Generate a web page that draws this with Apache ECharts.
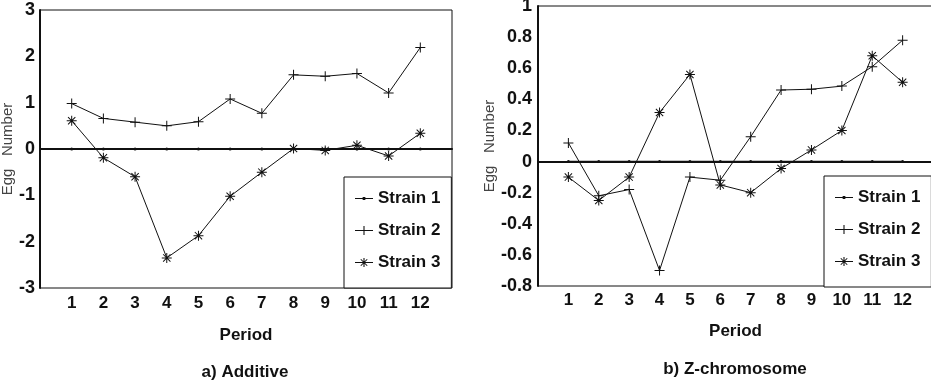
<!DOCTYPE html>
<html>
<head>
<meta charset="utf-8">
<script src="https://cdn.jsdelivr.net/npm/echarts@6/dist/echarts.min.js"></script>
<style>
  html, body { margin: 0; padding: 0; background: #fff; }
  #chart { width: 931px; height: 383px; }
</style>
</head>
<body>
<div id="chart"></div>
<script>
// periods on the x axis
var periods = [1, 2, 3, 4, 5, 6, 7, 8, 9, 10, 11, 12];

// a) Additive
var addStrain1 = [0, 0, 0, 0, 0, 0, 0, 0, 0, 0, 0, 0];
var addStrain2 = [0.98, 0.66, 0.58, 0.50, 0.59, 1.08, 0.77, 1.60, 1.57, 1.63, 1.21, 2.19];
var addStrain3 = [0.61, -0.19, -0.60, -2.35, -1.87, -1.02, -0.50, 0.01, -0.03, 0.08, -0.15, 0.34];

// b) Z-chromosome
var zStrain1 = [0, 0, 0, 0, 0, 0, 0, 0, 0, 0, 0, 0];
var zStrain2 = [0.12, -0.22, -0.18, -0.70, -0.10, -0.12, 0.16, 0.46, 0.465, 0.485, 0.61, 0.78];
var zStrain3 = [-0.10, -0.25, -0.10, 0.315, 0.56, -0.15, -0.20, -0.045, 0.075, 0.20, 0.68, 0.51];

var names = ['Strain 1', 'Strain 2', 'Strain 3'];
var ink = '#111';
var font = 'Liberation Sans, Arial, sans-serif';

// symbols (plus and asterisk)
var plusPath = 'path://M4.5,0h1v10h-1Z M0,4.5h10v1h-10Z';
var starPath = 'path://M4.5,0h1v10h-1Z M0,4.5h10v1h-10Z M1,1.7L1.7,1L9,8.3L8.3,9Z M8.3,1L9,1.7L1.7,9L1,8.3Z';
// legend icons: line with marker
var icon1 = 'path://M0,1h20v1.2h-20Z M8.5,0h3v3.2h-3Z';
var icon2 = 'path://M0,4.4h20v1.2h-20Z M9.4,0h1.2v10h-1.2Z';
var icon3 = 'path://M0,4.4h20v1.2h-20Z M9.4,0h1.2v10h-1.2Z M6,1.6L6.8,1L14,8.4L13.2,9Z M13.2,1L14,1.6L6.8,9L6,8.4Z';

function pts(vals) {
    return periods.map(function (p, i) { return [p, vals[i]]; });
}

function xAxisFor(idx) {
    return {
        type: 'value', gridIndex: idx, min: 0, max: 13, interval: 1,
        name: 'Period', nameLocation: 'middle', nameGap: idx === 0 ? 39 : 37,
        nameTextStyle: { fontFamily: font, fontWeight: 'bold', fontSize: 17, color: ink },
        axisLine: { lineStyle: { color: ink, width: 2 } },
        axisTick: { show: false },
        splitLine: { show: false },
        axisLabel: {
            margin: idx === 0 ? 7 : 6, fontFamily: font, fontWeight: 'bold', fontSize: 17, color: ink,
            formatter: function (v) { return (v < 1 || v > 12) ? '' : String(v); }
        }
    };
}

function yAxisFor(idx, min, max, step, gap, margin) {
    return {
        type: 'value', gridIndex: idx, min: min, max: max, interval: step,
        name: 'Egg   Number', nameLocation: 'middle', nameGap: gap,
        nameTextStyle: { fontFamily: font, fontSize: 15, color: '#444' },
        axisLine: { show: true, lineStyle: { color: ink, width: 2 } },
        axisTick: { show: false },
        splitLine: { show: false },
        axisLabel: {
            margin: margin, fontFamily: font, fontWeight: 'bold', fontSize: 18, color: ink,
            formatter: function (v) { return String(Math.round(v * 10) / 10); }
        }
    };
}

function seriesFor(idx, s1, s2, s3) {
    var base = {
        type: 'line', xAxisIndex: idx, yAxisIndex: idx,
        lineStyle: { color: ink, width: 1 },
        itemStyle: { color: ink },
        animation: false, z: 3
    };
    return [
        Object.assign({}, base, {
            name: names[0], data: pts(s1), symbol: 'circle', symbolSize: 3,
            lineStyle: { color: ink, width: 1.5 },
            markLine: {
                silent: true, symbol: 'none', label: { show: false },
                lineStyle: { color: ink, width: 1.5, type: 'solid' },
                data: [{ yAxis: 0 }]
            }
        }),
        Object.assign({}, base, { name: names[1], data: pts(s2), symbol: plusPath, symbolSize: 10 }),
        Object.assign({}, base, { name: names[2], data: pts(s3), symbol: starPath, symbolSize: 10 })
    ];
}

function legendFor(left, top) {
    return {
        left: left, top: top, orient: 'vertical',
        itemWidth: 18, itemHeight: 10, itemGap: 15,
        padding: [13, 11, 17, 11],
        borderColor: ink, borderWidth: 1, backgroundColor: '#fff',
        textStyle: { fontFamily: font, fontWeight: 'bold', fontSize: 17, color: ink },
        data: [
            { name: names[0], icon: icon1 },
            { name: names[1], icon: icon2 },
            { name: names[2], icon: icon3 }
        ],
        selectedMode: false
    };
}

var chart = echarts.init(document.getElementById('chart'), null, { renderer: 'canvas' });
chart.setOption({
    backgroundColor: '#fff',
    animation: false,
    grid: [
        { left: 40, top: 10, width: 412, height: 278, show: true, borderColor: ink, borderWidth: 1, outerBoundsMode: 'none' },
        { left: 538, top: 6, width: 395, height: 280, show: true, borderColor: ink, borderWidth: 1, outerBoundsMode: 'none' }
    ],
    xAxis: [xAxisFor(0), xAxisFor(1)],
    yAxis: [yAxisFor(0, -3, 3, 1, 24, 5), yAxisFor(1, -0.8, 1, 0.2, 39, 6)],
    legend: [legendFor(344, 177), legendFor(824, 176)],
    series: seriesFor(0, addStrain1, addStrain2, addStrain3)
        .concat(seriesFor(1, zStrain1, zStrain2, zStrain3)),
    graphic: [
        { type: 'text', x: 245, y: 372, style: { text: 'a) Additive', fontFamily: font, fontWeight: 'bold', fontSize: 17, fill: ink, textAlign: 'center', textVerticalAlign: 'middle' } },
        { type: 'text', x: 735, y: 369, style: { text: 'b) Z-chromosome', fontFamily: font, fontWeight: 'bold', fontSize: 17, fill: ink, textAlign: 'center', textVerticalAlign: 'middle' } }
    ]
});
</script>
</body>
</html>
